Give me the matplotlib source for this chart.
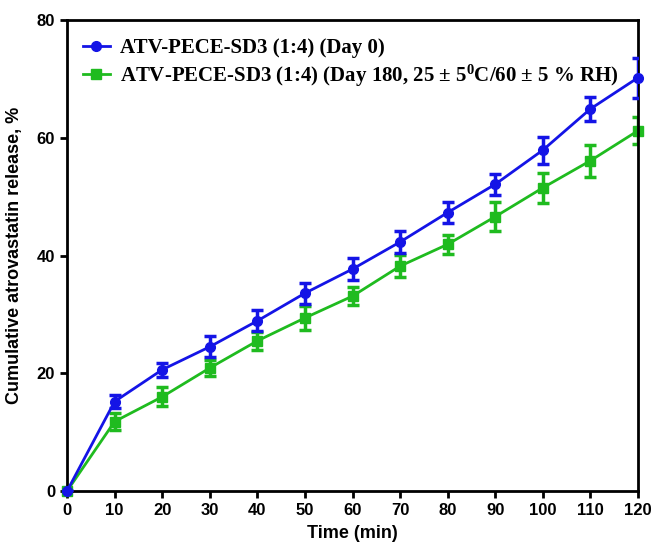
import numpy as np
import matplotlib
matplotlib.use('Agg')
import matplotlib.pyplot as plt
from matplotlib.lines import Line2D

# Dissolution data: time points and cumulative release (mean, SD)
time_min = [0, 10, 20, 30, 40, 50, 60, 70, 80, 90, 100, 110, 120]
day0_mean = [0, 15.2, 20.6, 24.5, 28.9, 33.6, 37.7, 42.3, 47.3, 52.1, 57.9, 64.9, 70.2]
day0_sd = [0, 1.1, 1.2, 1.8, 1.8, 1.8, 1.8, 1.85, 1.8, 1.75, 2.3, 2.1, 3.4]
day180_mean = [0, 11.8, 16.0, 20.9, 25.5, 29.4, 33.1, 38.2, 41.9, 46.6, 51.5, 56.1, 61.2]
day180_sd = [0, 1.4, 1.6, 1.3, 1.5, 2.0, 1.5, 1.9, 1.6, 2.5, 2.5, 2.7, 2.3]

label0 = 'ATV-PECE-SD3 (1:4) (Day 0)'
label180 = r'ATV-PECE-SD3 (1:4) (Day 180, 25 ± 5$^{0}$C/60 ± 5 % RH)'

plt.rcParams['mathtext.fontset'] = 'custom'
plt.rcParams['mathtext.rm'] = 'Liberation Serif:bold'
plt.rcParams['mathtext.it'] = 'Liberation Serif:bold'
plt.rcParams['mathtext.bf'] = 'Liberation Serif:bold'

fig = plt.figure(figsize=(6.51, 5.48), dpi=100)
ax = fig.add_axes([0.103, 0.104, 0.877, 0.8595])

blue = '#1414e6'
green = '#1fbb1f'
for y, err, c, m, z in [(day0_mean, day0_sd, blue, 'o', 3),
                        (day180_mean, day180_sd, green, 's', 2)]:
    line, caps, bars = ax.errorbar(time_min, y, yerr=err, color=c, marker=m,
                                   markersize=7, linewidth=2, elinewidth=2.5,
                                   capsize=4, capthick=2.5, zorder=z)
    line.set_clip_on(False)

ax.set_xlim(0, 120)
ax.set_ylim(0, 80)
ax.set_xticks(range(0, 121, 10))
ax.set_yticks(range(0, 81, 20))
for s in ax.spines.values():
    s.set_linewidth(2)
ax.tick_params(direction='out', length=5, width=2, labelsize=12)
for lbl in ax.get_xticklabels() + ax.get_yticklabels():
    lbl.set_fontweight('bold')
    lbl.set_fontfamily('Liberation Sans')

ax.set_xlabel('Time (min)', fontsize=13, fontweight='bold',
              fontfamily='Liberation Sans', labelpad=5)
ax.set_ylabel('Cumulative atrovastatin release, %', fontsize=13,
              fontweight='bold', fontfamily='Liberation Sans', labelpad=10)

handles = [Line2D([], [], color=blue, marker='o', markersize=7, linewidth=2),
           Line2D([], [], color=green, marker='s', markersize=7, linewidth=2)]
ax.legend(handles, [label0, label180], loc='upper left', frameon=False,
          handlelength=1.3, handletextpad=0.5,
          prop={'family': 'Liberation Serif', 'weight': 'bold', 'size': 15},
          borderaxespad=0.45, borderpad=0.3, labelspacing=0.22,
          bbox_to_anchor=(0.0, 0.995))

plt.savefig('out.png', dpi=100)
